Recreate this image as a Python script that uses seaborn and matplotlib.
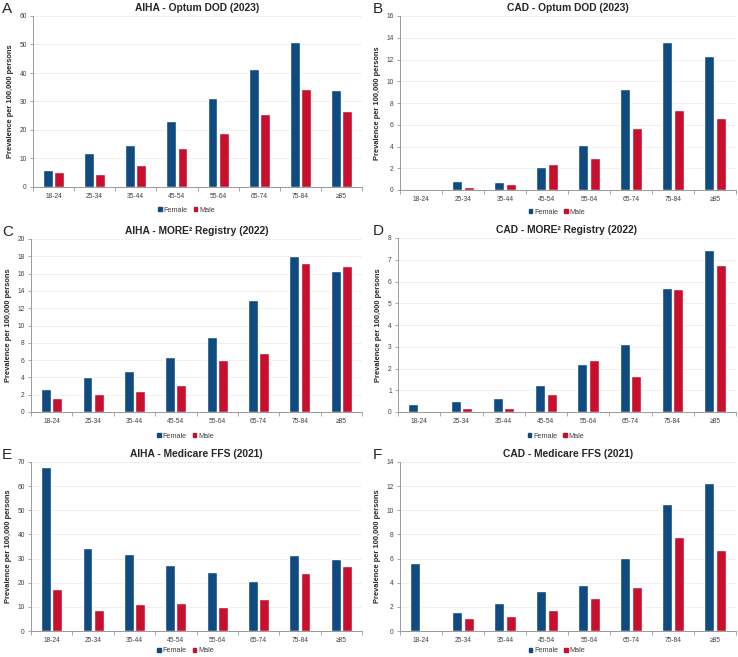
import matplotlib.pyplot as plt
from matplotlib.patches import Patch
import pandas as pd
import seaborn as sns

AGE_GROUPS = ['18-24', '25-34', '35-44', '45-54', '55-64', '65-74', '75-84', '≥85']
SEXES = ['Female', 'Male']

# prevalence per 100,000 persons
aiha_optum_female = [5.8, 11.9, 14.9, 23.1, 31.1, 41.4, 51.0, 33.9]
aiha_optum_male = [5.4, 4.7, 7.7, 13.8, 18.8, 25.7, 34.4, 26.5]
cad_optum_female = [0.0, 0.85, 0.75, 2.1, 4.15, 9.25, 13.6, 12.35]
cad_optum_male = [0.0, 0.3, 0.55, 2.35, 2.9, 5.7, 7.35, 6.6]
aiha_more2_female = [2.7, 4.1, 4.75, 6.35, 8.65, 13.0, 18.05, 16.3]
aiha_more2_male = [1.6, 2.1, 2.45, 3.15, 6.05, 6.8, 17.2, 16.9]
cad_more2_female = [0.35, 0.5, 0.63, 1.25, 2.2, 3.12, 5.7, 7.45]
cad_more2_male = [0.05, 0.18, 0.2, 0.82, 2.4, 1.65, 5.65, 6.75]
aiha_medicare_female = [68.0, 34.3, 31.8, 27.2, 24.5, 20.8, 31.6, 29.8]
aiha_medicare_male = [17.2, 8.5, 11.0, 11.4, 10.1, 13.3, 24.2, 27.0]
cad_medicare_female = [5.65, 1.6, 2.3, 3.35, 3.85, 6.05, 10.5, 12.25]
cad_medicare_male = [0.0, 1.05, 1.25, 1.75, 2.7, 3.65, 7.75, 6.75]

FEMALE_COLOR = '#0f4a80'
MALE_COLOR = '#c8102e'

W, H = 738, 657

sns.set_theme(style='white')
plt.rcParams['font.family'] = ['Liberation Sans', 'DejaVu Sans']

# letter, title, female, male, ymax, ystep, axes box in px (left, right, top, bottom), letter x, legend y
PANELS = [
    ('A', 'AIHA - Optum DOD (2023)', aiha_optum_female, aiha_optum_male, 60, 10, (33, 362, 16, 187), 2, 210),
    ('B', 'CAD - Optum DOD (2023)', cad_optum_female, cad_optum_male, 16, 2, (400, 736, 16, 190), 373, 212),
    ('C', 'AIHA - MORE² Registry (2022)', aiha_more2_female, aiha_more2_male, 20, 2, (31, 362, 239, 412), 2, 436),
    ('D', 'CAD - MORE² Registry (2022)', cad_more2_female, cad_more2_male, 8, 1, (398, 736, 238, 412), 373, 436),
    ('E', 'AIHA - Medicare FFS (2021)', aiha_medicare_female, aiha_medicare_male, 70, 10, (31, 362, 462, 631), 2, 651),
    ('F', 'CAD - Medicare FFS (2021)', cad_medicare_female, cad_medicare_male, 14, 2, (400, 736, 462, 631), 373, 651),
]


def draw_panel(fig, letter, title, female, male, ymax, ystep, box, letter_x, legend_y):
    left, right, top, bottom = box
    ax = fig.add_axes([left / W, 1 - bottom / H, (right - left) / W, (bottom - top) / H])

    df = pd.DataFrame({
        'age': AGE_GROUPS * 2,
        'sex': ['Female'] * len(AGE_GROUPS) + ['Male'] * len(AGE_GROUPS),
        'value': female + male,
    })
    sns.barplot(data=df, x='age', y='value', hue='sex', order=AGE_GROUPS, hue_order=SEXES,
                palette=[FEMALE_COLOR, MALE_COLOR], width=0.54, gap=0.12, saturation=1,
                legend=False, ax=ax)

    ax.set_xlim(-0.5, len(AGE_GROUPS) - 0.5)
    ax.set_ylim(0, ymax)
    ax.set_yticks(range(0, ymax + 1, ystep))
    ax.yaxis.grid(True, color='#eeeeee', linewidth=0.6)
    ax.set_axisbelow(True)

    # category boundaries get the tick marks, labels sit in the middle
    ax.set_xticks([i - 0.5 for i in range(len(AGE_GROUPS) + 1)])
    ax.set_xticklabels([])
    ax.set_xticks(range(len(AGE_GROUPS)), minor=True)
    ax.set_xticklabels(AGE_GROUPS, minor=True)
    ax.tick_params(axis='x', which='major', length=3, width=0.6, color='#9a9a9a', direction='out', bottom=True)
    ax.tick_params(axis='x', which='minor', length=0, pad=4, labelsize=4.8, labelcolor='#404040')
    ax.tick_params(axis='y', length=2.5, width=0.6, color='#9a9a9a', direction='out', left=True,
                   pad=2, labelsize=4.8, labelcolor='#404040')

    for side in ['top', 'right']:
        ax.spines[side].set_visible(False)
    for side in ['left', 'bottom']:
        ax.spines[side].set_color('#9a9a9a')
        ax.spines[side].set_linewidth(0.7)

    ax.set_xlabel('')
    ax.set_ylabel('Prevalence per 100,000 persons', fontsize=5.4, fontweight='bold', labelpad=4)

    fig.text((left + right) / 2 / W, 1 - (top - 8) / H, title, ha='center', va='center',
             fontsize=7.4, fontweight='bold')
    fig.text(letter_x / W, 1 - (top - 14) / H, letter, ha='left', va='top', fontsize=11)

    handles = [Patch(color=FEMALE_COLOR, label='Female'), Patch(color=MALE_COLOR, label='Male')]
    fig.legend(handles=handles, loc='center', bbox_to_anchor=((left + right) / 2 / W - 0.015, 1 - legend_y / H),
               ncol=2, frameon=False, fontsize=5.2, handlelength=0.5, handleheight=0.5,
               handletextpad=0.25, columnspacing=0.8, labelcolor='#404040')
    return ax


def generate_plot() -> None:
    fig = plt.figure(figsize=(W / 100, H / 100), dpi=100)
    for panel in PANELS:
        draw_panel(fig, *panel)
    fig.savefig('out.png', dpi=100)


if __name__ == '__main__':
    generate_plot()
